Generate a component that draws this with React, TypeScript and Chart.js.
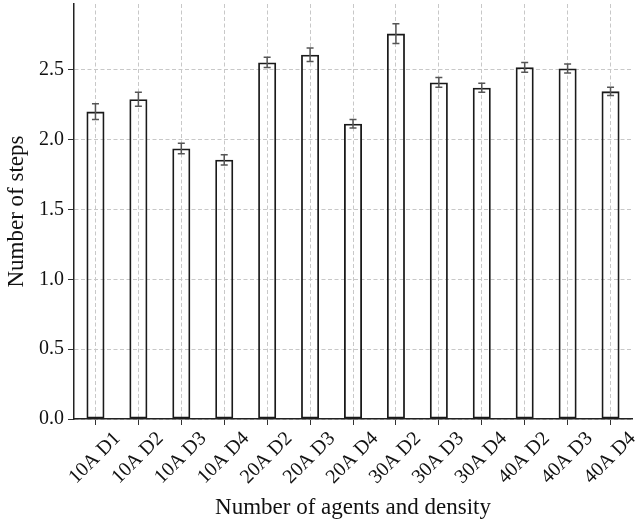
import React, { useEffect, useRef } from "react";
import { Chart, registerables } from "chart.js";

Chart.register(...registerables);

const categories = [
  "10A D1", "10A D2", "10A D3", "10A D4",
  "20A D2", "20A D3", "20A D4",
  "30A D2", "30A D3", "30A D4",
  "40A D2", "40A D3", "40A D4",
];
const meanSteps = [2.2, 2.289, 1.936, 1.855, 2.552, 2.607, 2.113, 2.758, 2.409, 2.371, 2.517, 2.509, 2.345];
const errSteps = [0.057, 0.05, 0.038, 0.037, 0.037, 0.049, 0.031, 0.07, 0.035, 0.032, 0.035, 0.032, 0.03];
const yTicks = [0, 0.5, 1.0, 1.5, 2.0, 2.5];
const yMax = 2.97;

const FONT = "'Liberation Serif', 'Times New Roman', serif";

const errorBarPlugin = {
  id: "errorBars",
  afterDatasetsDraw(chart: any) {
    const meta = chart.getDatasetMeta(0);
    const ys = chart.scales.y;
    const ctx = chart.ctx;
    ctx.save();
    ctx.strokeStyle = "#555555";
    ctx.lineWidth = 1.5;
    ctx.setLineDash([]);
    meta.data.forEach((bar: any, i: number) => {
      const x = bar.x;
      const top = ys.getPixelForValue(meanSteps[i] + errSteps[i]);
      const bot = ys.getPixelForValue(meanSteps[i] - errSteps[i]);
      ctx.beginPath();
      ctx.moveTo(x, top);
      ctx.lineTo(x, bot);
      ctx.moveTo(x - 3.5, top);
      ctx.lineTo(x + 3.5, top);
      ctx.moveTo(x - 3.5, bot);
      ctx.lineTo(x + 3.5, bot);
      ctx.stroke();
    });
    ctx.restore();
  },
};

export default function App() {
  const ref = useRef<HTMLCanvasElement | null>(null);

  useEffect(() => {
    if (!ref.current) return;
    const gridCommon = {
      color: "#c8c8c8",
      lineWidth: 1,
      drawTicks: true,
      tickLength: 6,
      tickColor: "#333333",
      tickBorderDash: [],
      tickWidth: 1,
    };
    const borderCommon = { display: true, color: "#222222", width: 1.5, dash: [4, 2.5] };
    const chart = new Chart(ref.current, {
      type: "bar",
      data: {
        labels: categories,
        datasets: [
          {
            data: meanSteps,
            backgroundColor: "rgba(255,255,255,0)",
            borderColor: "#1a1a1a",
            borderWidth: 1.8,
            borderSkipped: false,
            barPercentage: 0.42,
            categoryPercentage: 1.0,
          },
        ],
      },
      options: {
        animation: false,
        responsive: true,
        maintainAspectRatio: false,
        layout: { padding: { top: 4, right: 5, left: 0, bottom: 0 } },
        plugins: {
          legend: { display: false },
          tooltip: { enabled: false },
        },
        scales: {
          x: {
            type: "category",
            offset: true,
            grid: { ...gridCommon, offset: false },
            border: borderCommon,
            ticks: {
              autoSkip: false,
              minRotation: 45,
              maxRotation: 45,
              labelOffset: 22,
              padding: 2,
              color: "#111111",
              font: { family: FONT, size: 20 },
            },
            title: {
              display: true,
              text: "Number of agents and density",
              color: "#111111",
              font: { family: FONT, size: 23 },
              padding: { top: 0, bottom: 1 },
            },
            afterFit: (s: any) => {
              s.height = 104;
              s.paddingLeft = 0;
              s.paddingRight = 0;
            },
          },
          y: {
            type: "linear",
            min: 0,
            max: yMax,
            grid: { ...gridCommon },
            border: borderCommon,
            afterBuildTicks: (s: any) => {
              s.ticks = yTicks.map((v) => ({ value: v }));
            },
            ticks: {
              padding: 4,
              color: "#111111",
              font: { family: FONT, size: 20 },
              callback: (v: any) => Number(v).toFixed(1),
            },
            title: {
              display: true,
              text: "Number of steps",
              color: "#111111",
              font: { family: FONT, size: 23 },
              padding: { top: 3, bottom: 0 },
            },
            afterFit: (s: any) => {
              s.width = 74;
              s.paddingTop = 0;
              s.paddingBottom = 0;
            },
          },
        },
      },
      plugins: [errorBarPlugin],
    } as any);
    return () => chart.destroy();
  }, []);

  return (
    <div style={{ position: "absolute", left: 0, top: 0, width: 637, height: 523, background: "#fff" }}>
      <canvas ref={ref} />
    </div>
  );
}
